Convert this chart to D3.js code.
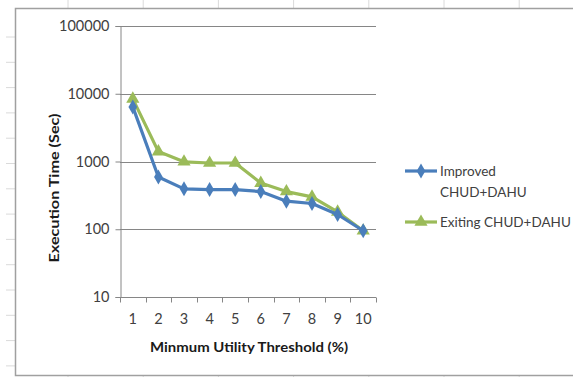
<!DOCTYPE html>
<html>
<head>
<meta charset="utf-8">
<script src="https://cdn.jsdelivr.net/npm/d3@7"></script>
<style>
  body { margin: 0; background: #fff; }
  svg { display: block; }
</style>
</head>
<body>
<div id="chart"></div>
<script>
// data
var categories = [1, 2, 3, 4, 5, 6, 7, 8, 9, 10];
var improved = [6400, 590, 395, 385, 385, 360, 260, 240, 165, 95];
var existing = [8400, 1400, 990, 950, 950, 480, 360, 300, 180, 95];
var yTicks = [10, 100, 1000, 10000, 100000];
var seriesNames = ["Improved|CHUD+DAHU", "Exiting CHUD+DAHU"];

var width = 573;
var height = 377;
var plot = { left: 120, right: 376, top: 26, bottom: 297 };
var blue = "#4a7ebb";
var green = "#9bbb59";
var axisColor = "#868686";
var font = "Lato, 'Open Sans', sans-serif";

var svg = d3.select("#chart")
	.append("svg")
	.attr("width", width)
	.attr("height", height);

// spreadsheet cell lines behind the chart
var cellCols = d3.range(68, 573, 75.2);
svg.selectAll(".colline")
	.data(cellCols)
	.enter()
	.append("line")
	.attr("x1", function (d) { return d; })
	.attr("x2", function (d) { return d; })
	.attr("y1", 0)
	.attr("y2", height)
	.attr("stroke", "#dadada")
	.attr("stroke-width", 1);
var cellRows = d3.range(37, 377, 25.3);
svg.selectAll(".rowline")
	.data(cellRows)
	.enter()
	.append("line")
	.attr("x1", 6)
	.attr("x2", 15)
	.attr("y1", function (d) { return d; })
	.attr("y2", function (d) { return d; })
	.attr("stroke", "#dadada")
	.attr("stroke-width", 1);

// chart frame
svg.append("rect")
	.attr("x", 15.5)
	.attr("y", 8.5)
	.attr("width", 600)
	.attr("height", 367)
	.attr("fill", "#fff")
	.attr("stroke", "#a0a0a0")
	.attr("stroke-width", 1.5);

var x = d3.scaleBand()
	.domain(categories)
	.range([plot.left, plot.right]);

var y = d3.scaleLog()
	.domain([10, 100000])
	.range([plot.bottom, plot.top]);

// horizontal gridlines
svg.selectAll(".grid")
	.data(yTicks)
	.enter()
	.append("line")
	.attr("x1", plot.left)
	.attr("x2", plot.right)
	.attr("y1", function (d) { return Math.round(y(d)) + 0.5; })
	.attr("y2", function (d) { return Math.round(y(d)) + 0.5; })
	.attr("stroke", axisColor)
	.attr("stroke-width", 1);

// y axis
var yAxis = d3.axisLeft(y)
	.tickValues(yTicks)
	.tickFormat(d3.format("d"))
	.tickSize(5)
	.tickPadding(6);
var yg = svg.append("g")
	.attr("transform", "translate(" + (plot.left + 0.5) + ",0)")
	.call(yAxis);

// x axis with ticks on the category boundaries
var xAxis = d3.axisBottom(x)
	.tickSize(0)
	.tickPadding(16);
var xg = svg.append("g")
	.attr("transform", "translate(0," + (Math.round(plot.bottom) + 0.5) + ")")
	.call(xAxis);
xg.selectAll(".bound")
	.data(d3.range(categories.length + 1))
	.enter()
	.append("line")
	.attr("x1", function (i) { return Math.round(plot.left + i * x.step()) + 0.5; })
	.attr("x2", function (i) { return Math.round(plot.left + i * x.step()) + 0.5; })
	.attr("y1", 0)
	.attr("y2", 5)
	.attr("stroke", axisColor);

[yg, xg].forEach(function (g) {
	g.selectAll(".domain").attr("stroke", axisColor);
	g.selectAll(".tick line").attr("stroke", axisColor);
	g.selectAll("text")
		.attr("fill", "#404040")
		.style("font-family", font)
		.style("font-size", "14.5px");
});
xg.select(".domain").attr("d", "M" + plot.left + ",0H" + plot.right);

// axis titles
svg.append("text")
	.attr("transform", "translate(59," + 188 + ") rotate(-90)")
	.attr("text-anchor", "middle")
	.attr("fill", "#1a1a1a")
	.attr("textLength", 149)
	.attr("lengthAdjust", "spacingAndGlyphs")
	.style("font-family", font)
	.style("font-weight", "bold")
	.style("font-size", "14px")
	.text("Execution Time (Sec)");

svg.append("text")
	.attr("x", 249)
	.attr("y", 352)
	.attr("text-anchor", "middle")
	.attr("fill", "#1a1a1a")
	.attr("textLength", 198)
	.attr("lengthAdjust", "spacingAndGlyphs")
	.style("font-family", font)
	.style("font-weight", "bold")
	.style("font-size", "14px")
	.text("Minmum Utility Threshold (%)");

// series
var line = d3.line()
	.x(function (d, i) { return x(categories[i]) + x.bandwidth() / 2; })
	.y(function (d) { return y(d); });

var series = [
	{ values: existing, color: green, symbol: d3.symbolTriangle, size: 75 },
	{ values: improved, color: blue, symbol: d3.symbolDiamond, size: 65 }
];

series.forEach(function (s) {
	svg.append("path")
		.datum(s.values)
		.attr("d", line)
		.attr("fill", "none")
		.attr("stroke", s.color)
		.attr("stroke-width", 3.2)
		.attr("stroke-linejoin", "round");
	svg.selectAll(null)
		.data(s.values)
		.enter()
		.append("path")
		.attr("d", d3.symbol().type(s.symbol).size(s.size))
		.attr("transform", function (d, i) {
			return "translate(" + (x(categories[i]) + x.bandwidth() / 2) + "," + y(d) + ")";
		})
		.attr("fill", s.color);
});

// legend
var legendItems = [
	{ name: seriesNames[0], color: blue, symbol: d3.symbolDiamond, size: 65, y: 171 },
	{ name: seriesNames[1], color: green, symbol: d3.symbolTriangle, size: 75, y: 222 }
];
legendItems.forEach(function (d) {
	svg.append("line")
		.attr("x1", 405)
		.attr("x2", 437)
		.attr("y1", d.y)
		.attr("y2", d.y)
		.attr("stroke", d.color)
		.attr("stroke-width", 3.2);
	svg.append("path")
		.attr("d", d3.symbol().type(d.symbol).size(d.size))
		.attr("transform", "translate(421," + d.y + ")")
		.attr("fill", d.color);
	var t = svg.append("text")
		.attr("x", 440)
		.attr("y", d.y + 5)
		.attr("fill", "#404040")
		.style("font-family", font)
		.style("font-size", "13.5px");
	d.name.split("|").forEach(function (part, i) {
		t.append("tspan")
			.attr("x", 440)
			.attr("dy", i === 0 ? 0 : 21)
			.text(part);
	});
});
</script>
</body>
</html>
